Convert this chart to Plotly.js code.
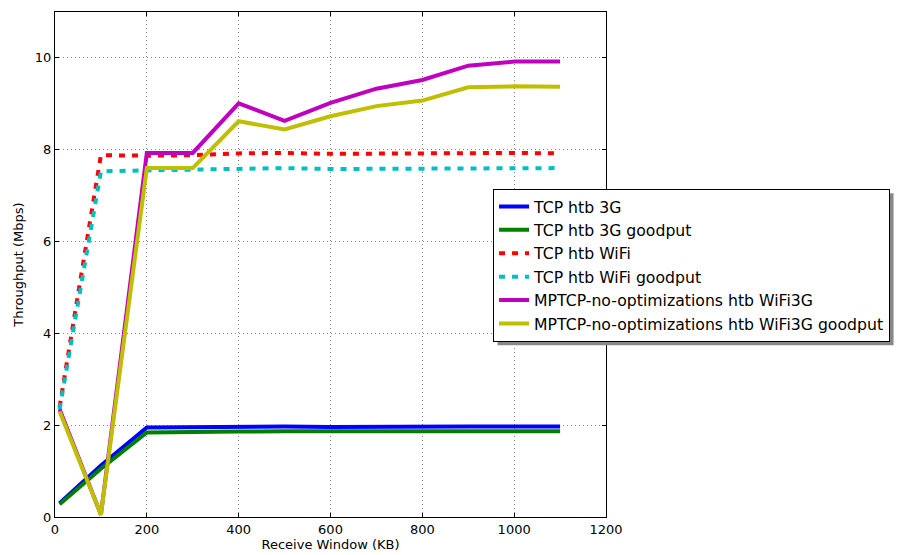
<!DOCTYPE html>
<html>
<head>
<meta charset="utf-8">
<script src="https://cdn.plot.ly/plotly-3.0.1.min.js"></script>
<style>html,body{margin:0;padding:0;background:#fff;}#chart{width:918px;height:555px;}</style>
</head>
<body>
<div id="chart"></div>
<script>
const windowKB = [10, 100, 200, 300, 400, 500, 600, 700, 800, 900, 1000, 1100];
const tcp3g = [0.30, 1.12, 1.95, 1.96, 1.97, 1.97, 1.96, 1.97, 1.97, 1.97, 1.97, 1.97];
const tcp3gGoodput = [0.28, 1.05, 1.84, 1.86, 1.86, 1.87, 1.86, 1.87, 1.87, 1.87, 1.87, 1.87];
const tcpWifi = [2.40, 7.88, 7.87, 7.88, 7.92, 7.93, 7.91, 7.92, 7.93, 7.92, 7.93, 7.92];
const tcpWifiGoodput = [2.35, 7.53, 7.55, 7.56, 7.57, 7.60, 7.58, 7.58, 7.58, 7.58, 7.60, 7.60];
const mptcp = [2.35, 0.05, 7.93, 7.93, 9.01, 8.63, 9.02, 9.33, 9.52, 9.83, 9.92, 9.92];
const mptcpGoodput = [2.30, 0.05, 7.60, 7.60, 8.62, 8.44, 8.73, 8.95, 9.07, 9.36, 9.38, 9.37];
const seriesNames = ["TCP htb 3G", "TCP htb 3G goodput", "TCP htb WiFi", "TCP htb WiFi goodput",
  "MPTCP-no-optimizations htb WiFi3G", "MPTCP-no-optimizations htb WiFi3G goodput"];
const xTicks = [0, 200, 400, 600, 800, 1000, 1200];
const yTicks = [0, 2, 4, 6, 8, 10];

const seriesData = [tcp3g, tcp3gGoodput, tcpWifi, tcpWifiGoodput, mptcp, mptcpGoodput];
const colors = ["#0000ff", "#008000", "#ff0000", "#00bfbf", "#bf00bf", "#bfbf00"];
const dashes = ["solid", "solid", "6px,7px", "6px,7px", "solid", "solid"];

const traces = seriesData.map((ys, i) => ({
  x: windowKB, y: ys, name: seriesNames[i], type: "scatter", mode: "lines",
  line: {color: colors[i], width: 4, dash: dashes[i]}
}));

const axisCommon = {
  showline: true, mirror: "ticks", linecolor: "#000", linewidth: 1,
  ticks: "inside", ticklen: 4, tickcolor: "#000",
  showgrid: true, gridcolor: "#888", griddash: "1px,3px", gridwidth: 1,
  zeroline: false, tickfont: {family: "DejaVu Sans", size: 13, color: "#000"}
};

const layout = {
  width: 918, height: 555,
  margin: {l: 55, r: 312, t: 12, b: 38},
  paper_bgcolor: "#fff", plot_bgcolor: "#fff",
  font: {family: "DejaVu Sans", color: "#000"},
  xaxis: Object.assign({}, axisCommon, {
    range: [0, 1200], tickvals: xTicks,
    title: {text: "Receive Window (KB)", font: {size: 13}, standoff: 2}
  }),
  yaxis: Object.assign({}, axisCommon, {
    range: [0, 11], tickvals: yTicks,
    title: {text: "Throughput (Mbps)", font: {size: 13}, standoff: 8}
  }),
  showlegend: true,
  legend: {
    x: 0.795, y: 0.650, xanchor: "left", yanchor: "top",
    bgcolor: "#fff", bordercolor: "#000", borderwidth: 1,
    font: {family: "DejaVu Sans", size: 15.7, color: "#000"},
    tracegroupgap: 0, itemwidth: 30
  }
};

Plotly.newPlot("chart", traces, layout, {displayModeBar: false, staticPlot: true}).then(gd => {
  const bg = gd.querySelector(".legend .bg");
  if (!bg) return;
  const r = bg.getBoundingClientRect();
  const c = gd.getBoundingClientRect();
  const shape = {
    type: "rect", xref: "paper", yref: "paper", layer: "above",
    x0: (r.left - c.left + 4 - 55) / 551, x1: (r.right - c.left + 4 - 55) / 551,
    y0: (517 - (r.bottom - c.top + 4)) / 505, y1: (517 - (r.top - c.top + 4)) / 505,
    fillcolor: "#888", line: {width: 0}
  };
  Plotly.relayout(gd, {shapes: [shape]});
});
</script>
</body>
</html>
